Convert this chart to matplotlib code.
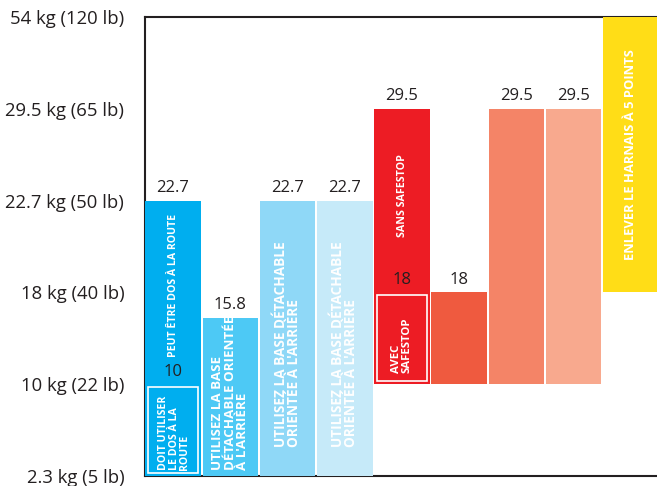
import numpy as np
import matplotlib
matplotlib.use('Agg')
import matplotlib.pyplot as plt
from matplotlib.patches import Rectangle

# weight levels shown on the axis (ordinal scale, evenly spaced)
levels = [2.3, 10, 18, 22.7, 29.5, 54]
level_labels = ['2.3 kg (5 lb)', '10 kg (22 lb)', '18 kg (40 lb)',
                '22.7 kg (50 lb)', '29.5 kg (65 lb)', '54 kg (120 lb)']

# bars: bottom weight -> top weight
bar_bottom = [2.3, 2.3, 2.3, 2.3, 10, 10, 10, 10, 18]
bar_top = [22.7, 15.8, 22.7, 22.7, 29.5, 18, 29.5, 29.5, 54]
top_labels = ['22.7', '15.8', '22.7', '22.7', '29.5', '18', '29.5', '29.5', '']
colors = ['#00aeef', '#4dc9f5', '#8fd8f7', '#c6eaf9',
          '#ed1c24', '#ef5a3f', '#f48467', '#f8a98e', '#ffdd17']

# inner values (lower limit markers)
inner_bars = [0, 4]
inner_values = [10, 18]
inner_labels = ['10', '18']


def to_level(v):
    return np.interp(v, levels, np.arange(len(levels)))


plt.rcParams['font.family'] = ['Open Sans', 'DejaVu Sans']

fig = plt.figure(figsize=(6.57, 4.86), dpi=100)
ax = fig.add_axes([145 / 657, 10 / 486, 512 / 657, 459 / 486])

x = np.arange(len(bar_top))
b0 = to_level(bar_bottom)
b1 = to_level(bar_top)
ax.bar(x, b1 - b0, bottom=b0, width=0.97, color=colors, zorder=3)

for i, lab in enumerate(top_labels):
    if lab:
        ax.text(x[i], b1[i] + 0.05, lab, ha='center', va='bottom',
                fontsize=12, color='#231f20', zorder=4)

# boxes with minimum weight
for i, v, lab in zip(inner_bars, inner_values, inner_labels):
    lv = to_level(v)
    ax.add_patch(Rectangle((x[i] - 0.43, b0[i] + 0.03), 0.86, lv - b0[i] - 0.06,
                           fill=False, ec='white', lw=1.2, zorder=4))
    ax.text(x[i], lv + 0.05, lab, ha='center', va='bottom',
            fontsize=12, color='#231f20', zorder=4)

white = dict(color='white', rotation=90, zorder=5, fontweight='bold')
ax.text(0, 2.08, 'PEUT ÊTRE DOS À LA ROUTE', ha='center', va='center', fontsize=7.6, **white)
ax.text(0.02, 0.06, 'DOIT UTILISER\nLE DOS À LA\nROUTE', ha='center', va='bottom',
        fontsize=7.6, linespacing=0.95, multialignment='left', **white)
ax.text(1, 0.06, "UTILISEZ LA BASE\nDÉTACHABLE ORIENTÉE\nÀ L'ARRIÈRE", ha='center',
        va='bottom', fontsize=9.6, linespacing=0.95, multialignment='left', **white)
for i in (2, 3):
    ax.text(i, 0.32, "UTILISEZ LA BASE DÉTACHABLE\nORIENTÉE À L'ARRIÈRE", ha='center',
            va='bottom', fontsize=9.8, linespacing=0.95, multialignment='left', **white)
ax.text(4, 3.05, 'SANS SAFESTOP', ha='center', va='center', fontsize=7.7, **white)
ax.text(4, 1.12, 'AVEC\nSAFESTOP', ha='center', va='bottom', fontsize=8.2,
        linespacing=0.9, multialignment='left', **white)
ax.text(8, 3.5, 'ENLEVER LE HARNAIS À 5 POINTS', ha='center', va='center',
        fontsize=9.4, **white)

ax.set_xlim(-0.49, 8.455)
ax.set_ylim(0, 5)
ax.set_xticks([])
ax.set_yticks(np.arange(len(levels)))
ax.set_yticklabels(level_labels, fontsize=13.3, color='#231f20')
ax.tick_params(axis='y', length=0, pad=15)
ax.spines['right'].set_visible(False)
for s in ('left', 'top', 'bottom'):
    ax.spines[s].set_color('#231f20')
    ax.spines[s].set_linewidth(1.5)

fig.savefig('out.png', dpi=100)
